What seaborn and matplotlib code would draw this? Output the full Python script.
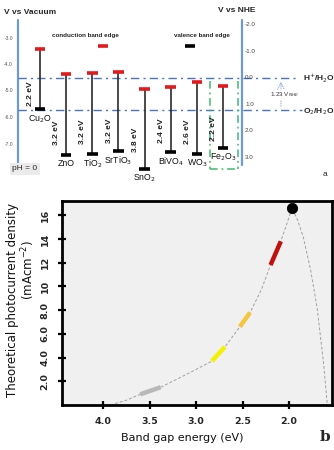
import matplotlib
matplotlib.use("Agg")
import matplotlib.pyplot as plt
import seaborn as sns
import pandas as pd

# ---------------- data: panel a (band edges, eV vs vacuum) ----------------
materials = ['Cu$_2$O', 'ZnO', 'TiO$_2$', 'SrTiO$_3$', 'SnO$_2$', 'BiVO$_4$', 'WO$_3$', 'Fe$_2$O$_3$']
cb_edge_vac = [-3.42, -4.36, -4.32, -4.28, -4.92, -4.85, -4.66, -4.81]
vb_edge_vac = [-5.68, -7.42, -7.36, -7.26, -7.94, -7.30, -7.38, -7.15]
gap_labels = ['2.2 eV', '3.2 eV', '3.2 eV', '3.2 eV', '3.8 eV', '2.4 eV', '2.6 eV', '2.2 eV']
vacuum_ticks = [-3.0, -4.0, -5.0, -6.0, -7.0]
nhe_ticks = [-2.0, -1.0, 0.0, 1.0, 2.0, 3.0]
h2_level_vac = -4.5
o2_level_vac = -5.73
nhe_zero_vac = -4.5

# ---------------- data: panel b (theoretical photocurrent) ----------------
bandgap_ev = [3.92, 3.75, 3.60, 3.48, 3.38, 3.20, 3.00, 2.83, 2.69, 2.53, 2.42, 2.30,
              2.20, 2.09, 2.02, 1.97, 1.91, 1.85, 1.77, 1.70, 1.66, 1.63, 1.59]
photocurrent = [0.0, 0.4, 0.9, 1.2, 1.5, 2.2, 3.0, 3.7, 4.9, 6.6, 7.8, 9.7,
                11.8, 13.8, 15.4, 16.6, 15.6, 14.2, 11.4, 8.2, 5.5, 3.5, 0.0]
seg_e_start = [3.60, 2.83, 2.53, 2.20]
seg_e_end = [3.38, 2.69, 2.42, 2.09]
seg_j_start = [0.9, 3.7, 6.6, 11.8]
seg_j_end = [1.5, 4.9, 7.8, 13.8]
peak_e = [1.97]
peak_j = [16.6]
x_ticks_b = [4.0, 3.5, 3.0, 2.5, 2.0]
x_ticklabels_b = ['4.0', '3.5', '3.0', '2.5', '2.0']
y_ticks_b = [2, 4, 6, 8, 10, 12, 14, 16]
y_ticklabels_b = ['2.0', '4.0', '6.0', '8.0', '10', '12', '14', '16']

# ---------------- styling ----------------
sns.set_theme(style="white")
plt.rcParams['font.family'] = ['Liberation Sans', 'DejaVu Sans']

W, H = 334, 450
fig = plt.figure(figsize=(W / 100, H / 100), dpi=100)
fig.patch.set_facecolor('white')

def fx(px):
    return px / W

def fy(py):
    return 1 - py / H

# ---------------- panel a ----------------
A_H = 215
ax_a = fig.add_axes([0, 1 - A_H / H, 1, A_H / H])
X0, DX = 40.0, 26.14      # px of first material, px per material
Y0, DY = 38.0, 26.5       # px of -3.0 eV, px per eV
ax_a.set_xlim(-X0 / DX, (W - X0) / DX)
ax_a.set_ylim(-3 - (A_H - Y0) / DY, -3 + Y0 / DY)
ax_a.axis('off')

def px(p):
    return (p - X0) / DX

def py(p):
    return -3 - (p - Y0) / DY

red = '#e3191c'
blue_axis = '#6f9ad6'
blue_line = '#4a74c4'
green = '#3dbb6e'

idx = list(range(len(materials)))
df_a = pd.DataFrame({'idx': idx, 'cb': cb_edge_vac, 'vb': vb_edge_vac})

# axes lines
ax_a.plot([px(18), px(18)], [py(20), py(165)], color=blue_axis, lw=1.6)
ax_a.plot([px(242), px(242)], [py(20), py(165)], color=blue_axis, lw=1.6)

# redox levels
ax_a.plot([px(18), px(297)], [h2_level_vac, h2_level_vac], color=blue_line, lw=1.0,
          linestyle=(0, (6, 3, 1.5, 3)))
ax_a.plot([px(18), px(302)], [o2_level_vac, o2_level_vac], color=blue_line, lw=1.0,
          linestyle=(0, (6, 3, 1.5, 3)))

# Fe2O3 box
gx1, gx2, gy1, gy2 = px(210), px(238), py(81), py(169)
for xs, ys in [([gx1, gx1], [gy1, gy2]), ([gx2, gx2], [gy1, gy2]), ([gx1, gx2], [gy2, gy2])]:
    ax_a.plot(xs, ys, color=green, lw=1.1, linestyle=(0, (5, 2.5, 1.2, 2.5)))

# band lines and edges
ax_a.vlines(df_a['idx'], df_a['vb'], df_a['cb'], color='#2b2b2b', lw=1.2, zorder=3)
hw = 0.2
ax_a.hlines(df_a['cb'], df_a['idx'] - hw, df_a['idx'] + hw, color=red, lw=2.6, zorder=4)
ax_a.hlines(df_a['vb'], df_a['idx'] - hw, df_a['idx'] + hw, color='black', lw=2.6, zorder=4)

for i, (name, cb, vb, gl) in enumerate(zip(materials, cb_edge_vac, vb_edge_vac, gap_labels)):
    ref = h2_level_vac if vb > o2_level_vac - 0.3 else o2_level_vac
    ax_a.text(i - 0.36, (vb + ref) / 2, gl, rotation=90, ha='center', va='center',
              fontsize=6, fontweight='bold', color='#222222')
    top = min(vb, o2_level_vac)
    ax_a.annotate(name, (i, top), xytext=(0, -2.5), textcoords='offset points',
                  ha='center', va='top', fontsize=6.3, color='#111111')

# tick labels
for t in vacuum_ticks:
    ax_a.text(px(13), t, f'{t:.1f}', ha='right', va='center', fontsize=3.6, color='#555555')
for t in nhe_ticks:
    ax_a.text(px(245), nhe_zero_vac - t, f'{t:.1f}', ha='left', va='center',
              fontsize=4.5, color='#444444')

fig.text(fx(4), fy(12), 'V vs Vacuum', ha='left', va='center', fontsize=6, fontweight='bold')
fig.text(fx(237), fy(10), 'V vs NHE', ha='center', va='center', fontsize=6, fontweight='bold')

# legend items
fig.text(fx(85), fy(36), 'conduction band edge', ha='center', va='center', fontsize=4.5,
         fontweight='bold', color='#222222')
fig.text(fx(202), fy(36), 'valence band edge', ha='center', va='center', fontsize=4.5,
         fontweight='bold', color='#222222')
ax_a.plot([px(98), px(108)], [py(46), py(46)], color=red, lw=2.6, solid_capstyle='butt')
ax_a.plot([px(185), px(195)], [py(46), py(46)], color='black', lw=2.6, solid_capstyle='butt')

fig.text(fx(303), fy(78), 'H$^{+}$/H$_2$O', ha='left', va='center', fontsize=6, fontweight='bold')
fig.text(fx(303), fy(112), 'O$_2$/H$_2$O', ha='left', va='center', fontsize=6, fontweight='bold')
ax_a.annotate('', xy=(px(281), h2_level_vac - 0.05), xytext=(px(281), o2_level_vac + 0.05),
              arrowprops=dict(arrowstyle='->', linestyle=':', color='#7a95cc', lw=0.6))
fig.text(fx(285), fy(95), '1.23 V$_{NHE}$', ha='center', va='center', fontsize=4.5,
         color='#333333', bbox=dict(facecolor='white', edgecolor='none', pad=0.5))

fig.text(fx(25), fy(169), 'pH = 0', ha='center', va='center', fontsize=6,
         bbox=dict(facecolor='#ebebeb', edgecolor='none', pad=1.5))
fig.text(fx(325), fy(174), 'a', ha='center', va='center', fontsize=6, color='#222222')

# ---------------- panel b ----------------
L, R, T, B = 62, 332, 201, 405
ax_b = fig.add_axes([fx(L), fy(B), (R - L) / W, (B - T) / H])
ax_b.set_facecolor('#f0f0f0')

df_b = pd.DataFrame({'Eg': bandgap_ev, 'J': photocurrent})
sns.lineplot(data=df_b, x='Eg', y='J', sort=False, estimator=None, ax=ax_b,
             color='#a0a0a0', lw=0.7, linestyle=(0, (3, 2)))

seg_colors = ['#b8b8b8', '#f3f000', '#f4c63f', '#c01010']
for e0, e1, j0, j1, c in zip(seg_e_start, seg_e_end, seg_j_start, seg_j_end, seg_colors):
    seg = pd.DataFrame({'Eg': [e0, e1], 'J': [j0, j1]})
    sns.lineplot(data=seg, x='Eg', y='J', sort=False, estimator=None, ax=ax_b,
                 color=c, lw=3.2, solid_capstyle='butt')

sns.scatterplot(x=peak_e, y=peak_j, ax=ax_b, color='black', s=55, zorder=5, edgecolor='black')

ax_b.set_xlim(4.44, 1.54)
ax_b.set_ylim(0, 17.2)
ax_b.set_xlabel('')
ax_b.set_ylabel('')
ax_b.set_xticks(x_ticks_b)
ax_b.set_xticklabels(x_ticklabels_b, fontsize=6.8, fontweight='bold', family='DejaVu Sans')
ax_b.set_yticks(y_ticks_b)
ax_b.set_yticklabels(y_ticklabels_b, fontsize=6.8, fontweight='bold', family='DejaVu Sans',
                     rotation=90, va='center')
ax_b.tick_params(axis='both', direction='inout', length=6, width=1.6, color='black',
                 left=True, bottom=True)
ax_b.tick_params(axis='x', pad=6)
ax_b.tick_params(axis='y', pad=6)
for s in ax_b.spines.values():
    s.set_visible(True)
    s.set_color('black')
    s.set_linewidth(2.0)

fig.text(fx(13), fy(300), 'Theoretical photocurrent density', rotation=90, ha='center',
         va='center', fontsize=8.5, family='DejaVu Sans', color='#111111')
fig.text(fx(28), fy(270), '(mAcm$^{-2}$)', rotation=90, ha='center', va='center',
         fontsize=8.5, family='DejaVu Sans', color='#111111')
fig.text(fx(182), fy(438), 'Band gap energy (eV)', ha='center', va='center', fontsize=8,
         family='DejaVu Sans', color='#111111')
fig.text(fx(325), fy(437), 'b', ha='center', va='center', fontsize=11, fontweight='bold',
         family='DejaVu Serif')

fig.savefig('out.png', dpi=100, facecolor='white')
